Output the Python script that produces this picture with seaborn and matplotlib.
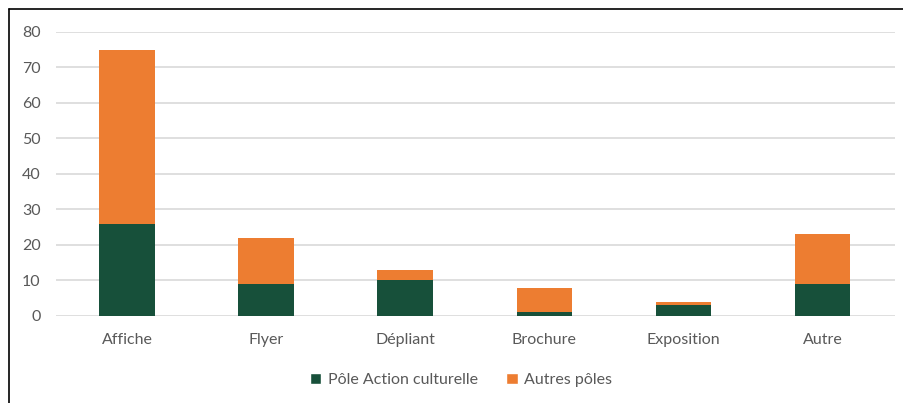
import matplotlib
matplotlib.use("Agg")
import matplotlib.pyplot as plt
import seaborn as sns
import pandas as pd
from matplotlib.lines import Line2D
from matplotlib.patches import Patch

categories = ["Affiche", "Flyer", "Dépliant", "Brochure", "Exposition", "Autre"]
pole_action = [26, 9, 10, 1, 3, 9]
autres_poles = [49, 13, 3, 7, 1, 14]
series_names = ["Pôle Action culturelle", "Autres pôles"]
yticks = [0, 10, 20, 30, 40, 50, 60, 70, 80]

GREEN = "#17503A"
ORANGE = "#ED7D31"
TXT = "#595959"

sns.set_theme(style="white")
plt.rcParams['font.family'] = ['Lato', 'DejaVu Sans']

df = pd.DataFrame({"cat": categories, "a": pole_action, "b": autres_poles})

fig = plt.figure(figsize=(9.04, 4.03), dpi=100)
ax = fig.add_axes([0.062, 0.216, 0.928, 0.705])

sns.barplot(data=df, x="cat", y="a", color=GREEN, width=0.4, ax=ax,
            saturation=1, zorder=3, edgecolor="none")
sns.barplot(data=df, x="cat", y="b", color=ORANGE, width=0.4, ax=ax,
            saturation=1, bottom=df["a"], zorder=3, edgecolor="none")

ax.set_xlim(-0.51, 5.52)
ax.set_ylim(0, 80)
ax.set_yticks(yticks)
ax.set_xlabel("")
ax.set_ylabel("")
ax.grid(axis="y", color="#D9D9D9", linewidth=1.2, zorder=0)
ax.grid(axis="x", visible=False)
for s in ax.spines.values():
    s.set_visible(False)
ax.tick_params(axis="both", length=0, labelsize=11.5, colors=TXT)
ax.tick_params(axis="x", pad=12)
ax.tick_params(axis="y", pad=11)

handles = [Patch(facecolor=GREEN), Patch(facecolor=ORANGE)]
fig.legend(handles, series_names, loc="center", bbox_to_anchor=(0.51, 0.057),
           ncol=2, frameon=False, fontsize=11.5, handlelength=0.7, handleheight=0.7,
           handletextpad=0.4, columnspacing=1.8, labelcolor=TXT)

# outer frame lines (top and left)
fig.add_artist(Line2D([9/904, 1.0], [1 - 9/403, 1 - 9/403], color="black", linewidth=1.2))
fig.add_artist(Line2D([9/904, 9/904], [0, 1 - 9/403], color="black", linewidth=1.2))

fig.savefig("out.png", dpi=100)
